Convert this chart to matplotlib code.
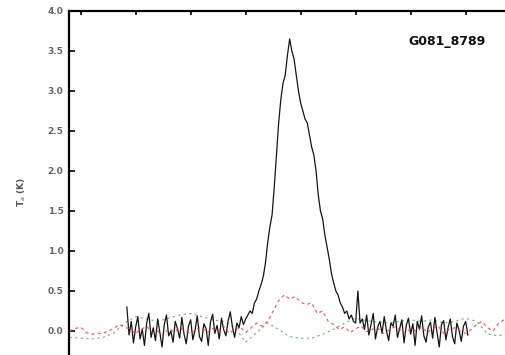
import numpy as np
import matplotlib
matplotlib.use("Agg")
import matplotlib.pyplot as plt

# Spectrum channels (km/s) and antenna temperature (K)
chan_start = -15.8
chan_step = 0.2
spec_t = [
    0.30, -0.05, 0.12, -0.15, 0.05, 0.18, -0.10, 0.02, -0.18, 0.10,
    0.22, -0.08, 0.04, -0.12, 0.15, -0.02, -0.20, 0.08, 0.20, -0.06,
    0.00, -0.14, 0.12, 0.03, -0.09, 0.17, -0.04, -0.16, 0.06, 0.14,
    -0.11, 0.01, 0.19, -0.07, -0.13, 0.09, 0.03, -0.18, 0.11, 0.21,
    -0.03, 0.07, -0.10, 0.16, 0.02, -0.06, 0.12, 0.24, 0.05, -0.08,
    0.10, 0.04, 0.18, 0.08,
    0.15, 0.20, 0.25, 0.22, 0.35, 0.40, 0.50, 0.58, 0.68, 0.85,
    1.10, 1.30, 1.45, 1.80, 2.20, 2.60, 2.90, 3.10, 3.20, 3.45,
    3.65, 3.50, 3.40, 3.20, 3.00, 2.85, 2.75, 2.65, 2.60, 2.45,
    2.30, 2.20, 2.00, 1.70, 1.50, 1.40, 1.20, 1.05, 0.90, 0.72,
    0.60, 0.50, 0.45, 0.35, 0.30, 0.22, 0.25, 0.15, 0.20, 0.12,
    0.10, 0.50, 0.10,
    0.15, 0.02, 0.20, -0.05, 0.08, 0.22, -0.10, 0.05, 0.12, -0.03,
    0.18, 0.00, -0.12, 0.10, 0.06, 0.20, -0.08, 0.03, 0.14, -0.15,
    0.07, 0.16, -0.04, 0.09, -0.18, 0.12, 0.02, 0.19, -0.06, -0.14,
    0.05, 0.11, -0.09, 0.17, -0.02, -0.20, 0.08, 0.13, -0.11, 0.04,
    0.15, -0.07, -0.16, 0.10, 0.01, -0.13, 0.06, 0.12, -0.05,
]

# second species (red dashed), 0.5 km/s grid from -21
red_start = -21.0
red_step = 0.5
red_t = [
    0.00, 0.03, 0.05, -0.02, -0.04, -0.03, -0.03, 0.00, 0.03, 0.08,
    0.05, 0.02, -0.03, 0.02, 0.06, -0.02, 0.00, -0.05, 0.03, -0.01,
    0.04, 0.00, -0.03, 0.02, 0.05, -0.02, 0.03, 0.00, 0.06, -0.03,
    0.02, 0.05, -0.02, 0.04, 0.10, 0.06, 0.12, 0.25, 0.38, 0.45,
    0.40, 0.43, 0.36, 0.33, 0.35, 0.22, 0.25, 0.12, 0.08, 0.02,
    0.05, -0.02, 0.03, 0.06, -0.01, 0.02, 0.04, -0.03, 0.01, 0.05,
    0.02, -0.03, 0.03, 0.00, 0.05, -0.02, 0.03, 0.06, -0.03, 0.02,
    0.04, 0.00, -0.03, 0.02, 0.08, 0.12, 0.04, 0.00, 0.10, 0.14,
    0.05, 0.02, 0.06, 0.03, 0.00, 0.04,
]

# third trace (green dotted), 1 km/s grid from -21
green_start = -21.0
green_step = 1.0
green_t = [
    -0.08, -0.09, -0.10, -0.08, -0.03, 0.10, 0.18, 0.15, 0.12, 0.16,
    0.20, 0.22, 0.18, 0.14, 0.12, 0.05, -0.14, -0.02, 0.10, 0.02,
    -0.07, -0.09, -0.09, -0.04, 0.02, 0.10, 0.16, 0.13, 0.11, 0.10,
    0.12, 0.14, 0.12, 0.14, 0.10, 0.12, 0.16, 0.12, -0.04, -0.06,
    -0.02, 0.02, 0.00,
]

source_name = "G081_8789"
y_ticks = [0.0, 0.5, 1.0, 1.5, 2.0, 2.5, 3.0, 3.5, 4.0]
x_ticks = [-20, -15, -10, -5, 0, 5, 10, 15, 20]

v_spec = chan_start + chan_step * np.arange(len(spec_t))
v_red = red_start + red_step * np.arange(len(red_t))
v_green = green_start + green_step * np.arange(len(green_t))

W, H = 506, 355
fig = plt.figure(figsize=(W / 100, H / 100), dpi=100)
# the axes run past the right and bottom edges, like the cropped original
ax = fig.add_axes([69 / W, (355 - 371) / H, (540 - 69) / W, 360 / H])

ax.plot(v_green, green_t, color="#3a9a3a", lw=0.8, ls=(0, (2, 3)), alpha=0.75)
ax.plot(v_spec, spec_t, color="#151515", lw=0.9)
ax.plot(v_red, red_t, color="#f03a3a", lw=0.9, ls=(0, (2.5, 2.5)), alpha=0.8)

ax.set_xlim(-21.06, -21.06 + 471 / 11)
ax.set_ylim(-0.5, 4.0)
ax.set_yticks(y_ticks)
ax.set_yticklabels([f"{t:.1f}" for t in y_ticks], fontsize=6.5,
                   color="#666666", fontweight="bold")
ax.set_xticks(x_ticks)
ax.tick_params(axis="y", direction="in", length=4, width=1.2, pad=4)
ax.tick_params(axis="x", direction="in", length=3, width=1.2,
               top=True, bottom=False, labelbottom=False)
for s in ax.spines.values():
    s.set_linewidth(1.6)

fig.text(22 / W, 1 - 192 / H, "T$_a$ (K)", rotation=90, ha="center",
         va="center", fontsize=6.5, color="#555555", fontweight="bold")
fig.text(447 / W, 1 - 42 / H, source_name, ha="center", va="center",
         fontsize=9, fontweight="bold", color="#111111")

fig.savefig("out.png", dpi=100)
